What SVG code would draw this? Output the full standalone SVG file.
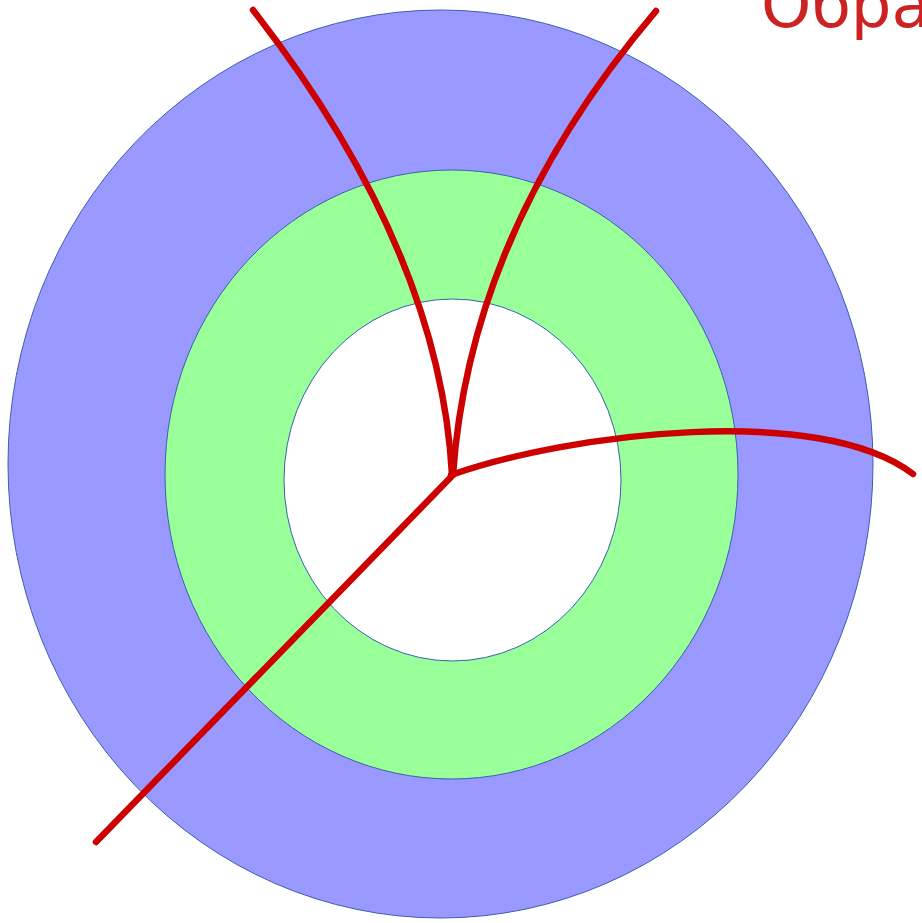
<svg xmlns="http://www.w3.org/2000/svg" width="922" height="923" viewBox="0 0 922 923">
<style>
.ring{stroke:#3a5fb0;stroke-width:1}
.red{fill:none;stroke:#cc0000;stroke-width:6.5;stroke-linecap:round}
.lbl{font-family:"DejaVu Sans","Liberation Sans",sans-serif;fill:#cc2222}
</style>
<rect width="922" height="923" fill="#ffffff"/>
<g id="outer"><ellipse class="ring" cx="440.5" cy="464" rx="432.5" ry="454" fill="#9999ff"/></g>
<g id="middle"><ellipse class="ring" cx="451.5" cy="474.5" rx="286.5" ry="304.5" fill="#99ff99"/></g>
<g id="inner"><ellipse class="ring" cx="452.5" cy="480" rx="168.5" ry="181" fill="#ffffff"/></g>
<g id="connectors">
<path class="red" d="M452,475 Q440,250 253,10"/>
<path class="red" d="M453,475 Q470,230 656,11"/>
<path class="red" d="M451,475 C570,433 820,403 913,474"/>
<path class="red" d="M451,477 L96,842"/>
</g>
<g id="label"><text class="lbl" x="761" y="27" font-size="64">Обра</text></g>
</svg>
